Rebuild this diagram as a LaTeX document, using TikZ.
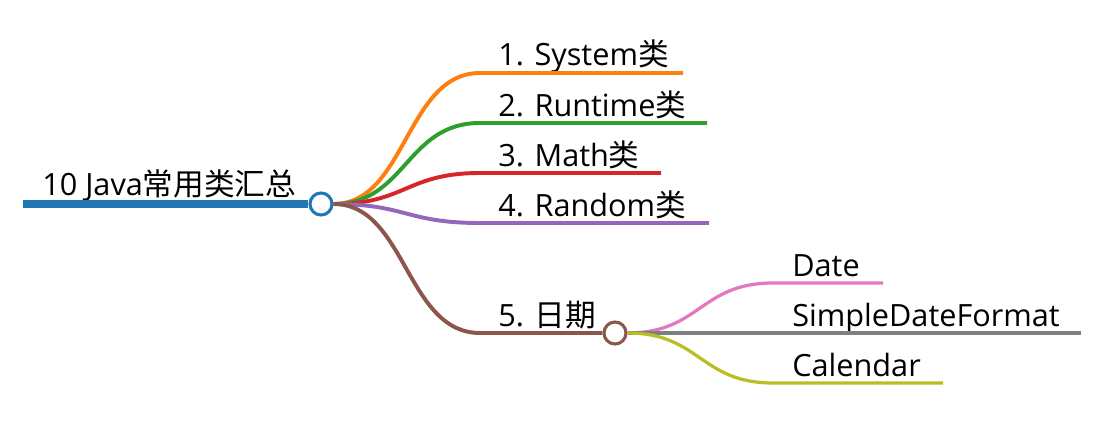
\documentclass[tikz,border=0pt]{standalone}
\usepackage{fontspec}
\setmainfont{Open Sans}
\newfontfamily\cjk{Noto Sans CJK SC}
\usetikzlibrary{positioning}
\definecolor{cRoot}{HTML}{1F77B4}
\definecolor{cSys}{HTML}{FF7F0E}
\definecolor{cRun}{HTML}{2CA02C}
\definecolor{cMath}{HTML}{D62728}
\definecolor{cRand}{HTML}{9467BD}
\definecolor{cDay}{HTML}{8C564B}
\definecolor{cDate}{HTML}{E377C2}
\definecolor{cFmt}{HTML}{7F7F7F}
\definecolor{cCal}{HTML}{BCBD22}
\tikzset{
  lbl/.style={anchor=base west, inner sep=0pt, font=\fontsize{21.8}{26}\selectfont},
  knot/.style={circle, draw=#1, fill=white, line width=2.2pt, minimum size=0.55cm, inner sep=0pt},
  trunk/.style={line width=5pt, cRoot},
  branch/.style={line width=2.8pt},
  twig/.style={line width=2.3pt},
}

\begin{document}
\begin{tikzpicture}[x=0.025cm, y=-0.025cm]
  \useasboundingbox (0,0) rectangle (1105,433);
  % root
  \node[knot=cRoot] (rk) at (321,204) {};
  \node[knot=cDay] (k5) at (615,333) {};
  \coordinate (r0) at (23,204);
  \node[lbl] (root) at (42,195) {10 Java{\cjk 常用类汇总}};
  \draw[trunk] (r0) -- (rk.west);
  % first level
  \foreach \n/\y/\xe/\c/\t in {1/73/683/cSys/{1. System{\cjk 类}}, 2/123/707/cRun/{2. Runtime{\cjk 类}}, 3/173/661/cMath/{3. Math{\cjk 类}}, 4/223/709/cRand/{4. Random{\cjk 类}}} {
    \coordinate (s\n) at (480,\y);
    \coordinate (e\n) at (\xe,\y);
    \node[lbl] (c\n) at (498,\y-7) {\t};
    \draw[branch, \c] (rk.east) .. controls (406,204) and (406,\y) .. (s\n) -- (e\n);
  }
  \coordinate (s5) at (480,333);
  \node[lbl] (c5) at (498,326) {5. {\cjk 日期}};
  \draw[branch, cDay] (rk.east) .. controls (406,204) and (406,333) .. (s5) -- (k5.west);
  % second level
  \foreach \n/\y/\xe/\c/\t in {6/283/883/cDate/Date, 7/333/1081/cFmt/SimpleDateFormat, 8/383/943/cCal/Calendar} {
    \coordinate (s\n) at (773,\y);
    \coordinate (e\n) at (\xe,\y);
    \node[lbl] (c\n) at (792,\y-7) {\t};
    \draw[twig, \c] (k5.east) .. controls (700,333) and (700,\y) .. (s\n) -- (e\n);
  }
\end{tikzpicture}
\end{document}
